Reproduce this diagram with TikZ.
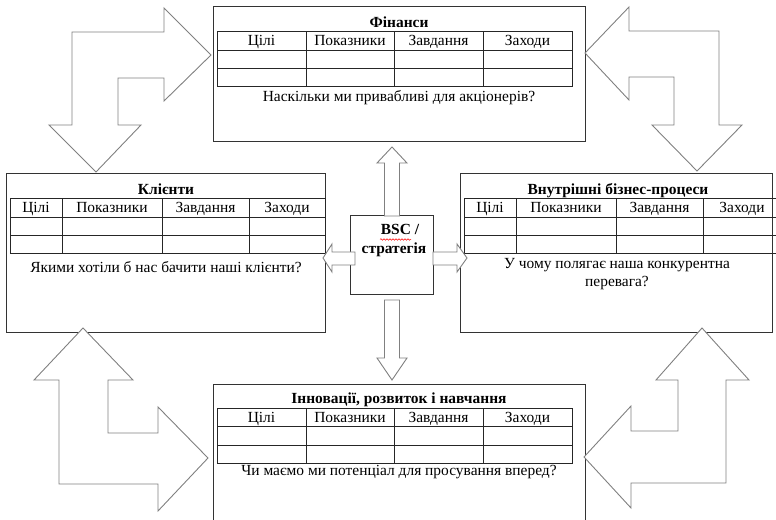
\documentclass[tikz,border=0pt]{standalone}
\usepackage{fontspec}
\setmainfont{Liberation Serif}
\usetikzlibrary{decorations.pathmorphing}

\tikzset{
  perspbox/.style={draw=black!80, line width=1bp, fill=white, inner sep=0pt},
  tableline/.style={draw=black!85, line width=1bp},
  headcell/.style={inner sep=0pt, text height=10.5bp, text depth=3.5bp,
    font=\fontsize{15.5}{17}\selectfont},
  boxtitle/.style={inner sep=0pt, text height=10.5bp, text depth=3.5bp,
    font=\fontsize{15.5}{17}\selectfont\bfseries},
  question/.style={inner sep=0pt, font=\fontsize{15.5}{18}\selectfont, align=center},
  blockarrow/.style={draw=gray, line width=0.9bp, fill=white, line join=miter},
}

% table of one perspective: #1 name, #2 top, #3..#7 column edges
\newcommand{\bsctable}[7]{%
  \draw[tableline] (#3,#2) rectangle (#7,#2+55);
  \foreach \rowy in {18.5,37}
    \draw[tableline] (#3,#2+\rowy) -- (#7,#2+\rowy);
  \foreach \colx in {#4,#5,#6}
    \draw[tableline] (\colx,#2) -- (\colx,#2+55);
  \node[headcell] (#1-goals) at ({(#3+#4)/2},#2+10.5) {Цілі};
  \node[headcell] (#1-kpi) at ({(#4+#5)/2},#2+10.5) {Показники};
  \node[headcell] (#1-tasks) at ({(#5+#6)/2},#2+10.5) {Завдання};
  \node[headcell] (#1-actions) at ({(#6+#7)/2},#2+10.5) {Заходи};
}

\begin{document}
\begin{tikzpicture}[x=1bp, y=-1bp]
  \useasboundingbox (0,0) rectangle (776,520);
  \clip (0,0) rectangle (776,520);

  % perspectives
  \node[perspbox, minimum width=372bp, minimum height=135bp] (finance) at (399,74.5) {};
  \node[perspbox, minimum width=318bp, minimum height=158bp] (clients) at (166,253) {};
  \node[perspbox, minimum width=312bp, minimum height=158bp] (process) at (616,253) {};
  \node[perspbox, minimum width=372bp, minimum height=141bp] (growth) at (399,454.5) {};
  \node[perspbox, minimum width=83bp, minimum height=78bp] (bsc) at (391.5,255) {};

  % finance
  \node[boxtitle] (finance-title) at (399,24) {Фінанси};
  \bsctable{fin}{32}{217}{306}{394}{483}{572}
  \node[question] (finance-q) at (399,97.5) {Наскільки ми привабливі для акціонерів?};

  % clients
  \node[boxtitle] (clients-title) at (166,191) {Клієнти};
  \bsctable{cli}{199}{10}{62}{162}{249}{325}
  \node[question] (clients-q) at (166,267.5) {Якими хотіли б нас бачити наші клієнти?};

  % internal processes
  \node[boxtitle] (process-title) at (618,191) {Внутрішні бізнес-процеси};
  \bsctable{pro}{199}{464}{516}{616}{703}{781}
  \node[question] (process-q) at (617,274.5) {У чому полягає наша конкурентна\\перевага?};

  % learning and growth
  \node[boxtitle] (growth-title) at (399,400) {Інновації, розвиток і навчання};
  \bsctable{gro}{408}{217}{306}{394}{483}{572}
  \node[question] (growth-q) at (399,472.5) {Чи маємо ми потенціал для просування вперед?};

  % centre
  \node[boxtitle] (bsc-top) at (400,231) {BSC /};
  \node[boxtitle] (bsc-bottom) at (394,250) {стратегія};
  \draw[red, line width=0.5bp, decorate,
        decoration={snake, amplitude=0.8bp, segment length=3bp}] (380,239.5) -- (411,239.5);

  % arrows from the centre
  \draw[blockarrow] (384.5,216) -- (384.5,163) -- (377,163) -- (392,147)
    -- (407,163) -- (399.5,163) -- (399.5,216) -- cycle;
  \draw[blockarrow] (384.5,300) -- (384.5,358) -- (377,358) -- (392,380)
    -- (407,358) -- (399.5,358) -- (399.5,300) -- cycle;
  \draw[blockarrow] (355,252) -- (332,252) -- (332,244) -- (323,258)
    -- (332,272) -- (332,265) -- (355,265) -- cycle;
  \draw[blockarrow] (433,252) -- (457,252) -- (457,244) -- (467,258)
    -- (457,272) -- (457,265) -- (433,265) -- cycle;

  % corner arrows
  \draw[blockarrow] (72,32) -- (164,32) -- (164,8) -- (211,55) -- (164,101)
    -- (164,78) -- (118,78) -- (118,125) -- (141,125) -- (96,172)
    -- (49,125) -- (72,125) -- cycle;
  \draw[blockarrow] (585,53) -- (629,7) -- (629,31) -- (719,31) -- (719,125)
    -- (742,125) -- (697,171) -- (652,125) -- (674,125) -- (674,77)
    -- (629,77) -- (629,100) -- cycle;
  \draw[blockarrow] (83,328) -- (133,380) -- (108,380) -- (108,433) -- (158,433)
    -- (158,407) -- (208,458) -- (158,511) -- (158,484) -- (59,484)
    -- (59,380) -- (34,380) -- cycle;
  \draw[blockarrow] (702,328) -- (749,380) -- (726,380) -- (726,483) -- (631,483)
    -- (631,508) -- (584,457) -- (631,406) -- (631,431) -- (678,431)
    -- (678,380) -- (656,380) -- cycle;
\end{tikzpicture}
\end{document}
